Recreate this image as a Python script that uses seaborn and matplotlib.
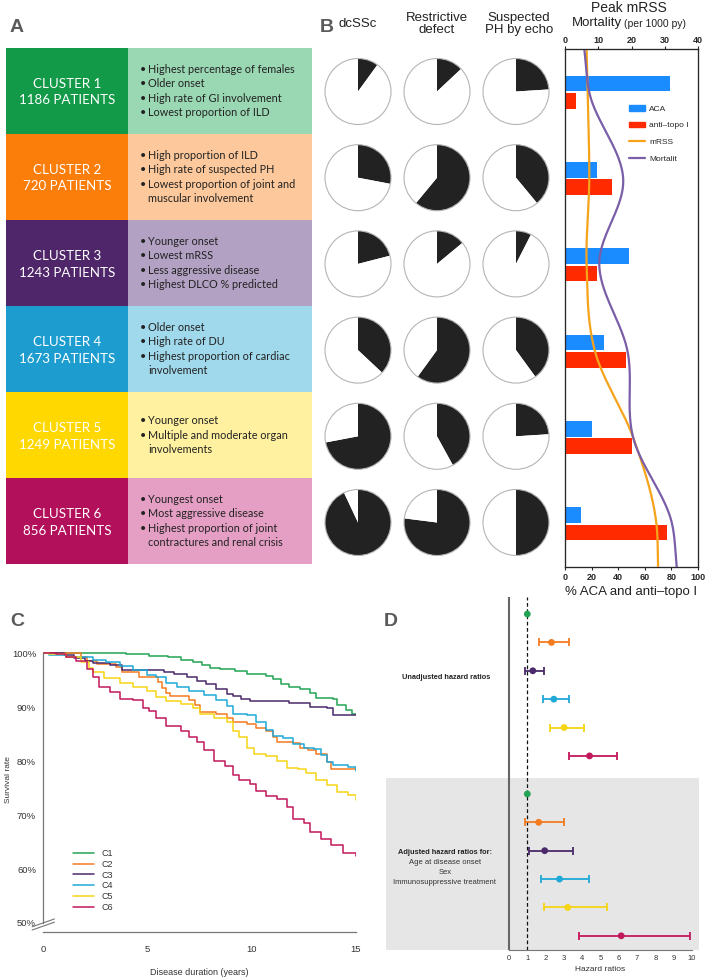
import numpy as np
import pandas as pd
import seaborn as sns
import matplotlib.pyplot as plt
from matplotlib.patches import Rectangle, Circle, Patch
from matplotlib.lines import Line2D

sns.set_style("white")
plt.rcParams["font.family"] = ["Liberation Sans", "DejaVu Sans"]

W, H = 709, 980

# ---------------- data ----------------
clusters = ["C1", "C2", "C3", "C4", "C5", "C6"]
cluster_sizes = [1186, 720, 1243, 1673, 1249, 856]
cluster_notes = [
    ["Highest percentage of females", "Older onset", "High rate of GI involvement", "Lowest proportion of ILD"],
    ["High proportion of ILD", "High rate of suspected PH", "Lowest proportion of joint and\nmuscular involvement"],
    ["Younger onset", "Lowest mRSS", "Less aggressive disease", "Highest DLCO % predicted"],
    ["Older onset", "High rate of DU", "Highest proportion of cardiac\ninvolvement"],
    ["Younger onset", "Multiple and moderate organ\ninvolvements"],
    ["Youngest onset", "Most aggressive disease", "Highest proportion of joint\ncontractures and renal crisis"],
]
dark_colors = ["#139a49", "#fb7d0a", "#4f2669", "#1d9dcf", "#ffd800", "#b3105c"]
light_colors = ["#9ad7b3", "#fdc89b", "#b3a1c4", "#a1d9ec", "#fff1a0", "#e59fc4"]
line_colors = ["#23a455", "#f47b20", "#4a2a6a", "#1fa8d8", "#f5d514", "#c2185b"]

pie_headers = ["dcSSc", "Restrictive\ndefect", "Suspected\nPH by echo"]
dcssc_frac = [0.10, 0.28, 0.21, 0.37, 0.72, 0.93]
restrictive_frac = [0.13, 0.61, 0.14, 0.60, 0.42, 0.77]
ph_echo_frac = [0.24, 0.39, 0.075, 0.40, 0.24, 0.50]

antibodies = ["ACA", "anti–topo I"]
aca_pct = [79, 24, 48, 29, 20, 12]
topo_pct = [8, 35, 24, 46, 50, 77]
# curves read at the top edge, at each cluster row, and at the bottom edge
mrss_curve = [6.5, 6.8, 7.3, 6.5, 9.0, 20.5, 27.5, 28.0]
mortality_curve = [5.8, 7.3, 17.5, 10.3, 18.8, 20.5, 32.2, 33.6]

km_time = {
    "C1": [0, 4.0, 5.1, 6.0, 6.6, 7.2, 7.6, 8.0, 8.5, 9.2, 9.8, 10.7, 11.0, 11.4, 11.8, 12.3, 12.8, 13.1, 13.9, 14.1, 14.5, 14.8, 15],
    "C2": [0, 1.8, 2.1, 2.6, 3.5, 3.8, 4.6, 5.5, 5.7, 5.9, 6.1, 7.0, 7.3, 7.5, 8.3, 8.8, 9.1, 9.8, 10.2, 10.7, 11.0, 11.2, 12.0, 12.3, 12.7, 13.1, 13.6, 13.8, 15],
    "C3": [0, 1.0, 1.5, 2.0, 2.4, 3.2, 3.8, 5.8, 6.3, 6.9, 7.4, 7.8, 8.3, 8.8, 9.1, 9.5, 9.9, 11.8, 12.8, 13.6, 13.9, 15],
    "C4": [0, 0.3, 1.1, 2.4, 3.0, 3.7, 4.3, 5.0, 5.4, 5.9, 6.4, 7.0, 7.7, 8.3, 8.8, 9.1, 9.8, 10.2, 10.7, 11.0, 11.5, 12.0, 12.5, 13.0, 13.3, 13.6, 13.9, 14.6, 15],
    "C5": [0, 0.3, 1.1, 1.8, 2.2, 2.4, 2.9, 3.7, 4.3, 5.0, 5.4, 5.9, 6.6, 7.2, 7.5, 8.2, 8.8, 9.1, 9.4, 9.8, 10.1, 10.7, 11.2, 11.7, 12.2, 12.6, 13.1, 13.6, 14.1, 14.6, 15],
    "C6": [0, 0.6, 1.1, 1.6, 2.1, 2.4, 2.7, 3.2, 3.7, 4.3, 4.8, 5.1, 5.4, 5.9, 6.6, 7.0, 7.4, 7.7, 8.2, 8.7, 9.1, 9.4, 9.9, 10.2, 10.7, 11.2, 11.7, 12.0, 12.5, 12.8, 13.3, 13.8, 14.4, 15],
}
km_surv = {
    "C1": [100, 99.8, 99.5, 99.2, 98.7, 98.3, 97.8, 97.2, 97.0, 96.6, 96.2, 95.8, 95.2, 94.3, 93.8, 93.3, 92.6, 91.7, 91.5, 90.3, 89.5, 88.8, 88.6],
    "C2": [100, 99.2, 98.6, 98.0, 97.4, 96.5, 95.5, 94.6, 93.5, 92.6, 92.0, 91.4, 90.4, 89.0, 88.7, 88.0, 87.3, 86.8, 86.1, 85.5, 84.5, 83.5, 83.4, 82.5, 82.1, 81.3, 79.9, 78.5, 78.4],
    "C3": [100, 99.6, 99.0, 98.5, 98.2, 97.8, 96.8, 96.5, 96.1, 95.5, 94.8, 94.2, 93.3, 92.5, 92.0, 91.5, 91.2, 90.7, 90.1, 89.8, 88.6, 88.6],
    "C4": [100, 99.7, 99.3, 98.8, 98.3, 97.6, 96.8, 96.0, 95.5, 94.5, 93.8, 93.0, 92.2, 91.3, 90.2, 88.8, 88.5, 87.3, 85.8, 84.7, 84.2, 83.2, 82.5, 82.2, 81.2, 79.8, 79.2, 78.9, 78.2],
    "C5": [100, 99.8, 99.2, 98.3, 97.3, 96.5, 95.3, 94.5, 93.8, 93.0, 91.8, 91.2, 90.5, 89.8, 88.8, 88.0, 87.2, 85.5, 84.5, 82.5, 81.3, 81.0, 80.0, 78.7, 78.5, 77.8, 76.5, 75.5, 74.3, 73.8, 72.8],
    "C6": [100, 99.8, 99.3, 98.5, 97.0, 95.5, 93.8, 92.8, 91.5, 91.3, 89.8, 89.2, 88.0, 86.5, 85.5, 84.5, 83.5, 82.0, 80.0, 79.0, 77.5, 76.5, 75.8, 74.5, 73.5, 73.0, 71.5, 69.3, 68.5, 66.8, 65.5, 64.5, 63.0, 62.4],
}

hr_unadj = [1.0, 2.32, 1.30, 2.45, 3.01, 4.40]
hr_unadj_lo = [1.0, 1.62, 0.86, 1.86, 2.24, 3.28]
hr_unadj_hi = [1.0, 3.28, 1.90, 3.27, 4.09, 5.88]
hr_adj = [1.0, 1.62, 1.95, 2.76, 3.21, 6.13]
hr_adj_lo = [1.0, 0.88, 1.08, 1.75, 1.92, 3.80]
hr_adj_hi = [1.0, 3.01, 3.52, 4.38, 5.35, 9.89]


def smooth(vals, pos, n=40):
    """Cubic Hermite curve through the knots (like a smoothed line)."""
    v = np.asarray(vals, float)
    p = np.asarray(pos, float)
    m = np.gradient(v, p)
    t = np.linspace(0, 1, n)
    h00 = 2 * t**3 - 3 * t**2 + 1
    h10 = t**3 - 2 * t**2 + t
    h01 = -2 * t**3 + 3 * t**2
    h11 = t**3 - t**2
    xs, ys = [], []
    for i in range(len(v) - 1):
        h = p[i + 1] - p[i]
        ys.append(h00 * v[i] + h10 * h * m[i] + h01 * v[i + 1] + h11 * h * m[i + 1])
        xs.append(p[i] + t * h)
    return np.concatenate(xs), np.concatenate(ys)


fig = plt.figure(figsize=(W / 100, H / 100), dpi=100)

# ---------------- canvas: table (A) and pies (B) ----------------
cv = fig.add_axes([0, 0, 1, 1])
cv.set_xlim(0, W)
cv.set_ylim(H, 0)

table_font = ["Lato", "DejaVu Sans"]
row_top, row_h, line_h = 48, 86, 14.3
for i in range(6):
    y0 = row_top + i * row_h
    cv.add_patch(Rectangle((6, y0), 122, row_h, color=dark_colors[i], lw=0))
    cv.add_patch(Rectangle((128, y0), 184, row_h, color=light_colors[i], lw=0))
    yc = y0 + row_h / 2
    cv.text(67, yc + 1, f"CLUSTER {i + 1}\n{cluster_sizes[i]} PATIENTS", ha="center", va="center",
            color="white", fontsize=9.6, family=table_font, linespacing=1.5)
    n_lines = sum(len(s.split("\n")) for s in cluster_notes[i])
    y = yc - (n_lines - 1) / 2 * line_h
    for note in cluster_notes[i]:
        cv.text(140, y, "•", ha="left", va="center", fontsize=7.8, family=table_font, color="#222")
        for part in note.split("\n"):
            cv.text(148, y, part, ha="left", va="center", fontsize=7.8, family=table_font, color="#222")
            y += line_h

for j, fracs in enumerate([dcssc_frac, restrictive_frac, ph_echo_frac]):
    cx = 358 + 79 * j
    cv.text(cx + (3 if j == 2 else 0), 24, pie_headers[j], ha="center", va="center",
            fontsize=9.5, linespacing=1.1, color="#222")
    for i, f in enumerate(fracs):
        cy = 91.5 + 86.2 * i
        cv.pie([f, 1 - f], colors=["#222222", "white"], startangle=270, counterclock=True,
               center=(cx, cy), radius=33, frame=True, wedgeprops=dict(linewidth=0))
        cv.add_patch(Circle((cx, cy), 33, fill=False, ec="#b5b5b5", lw=0.8))

cv.set_xlim(0, W)
cv.set_ylim(H, 0)
cv.set_aspect("auto")
cv.axis("off")

# title of the bar panel
cv.text(629, 8, "Peak mRSS", ha="center", va="center", fontsize=10, color="#222")
cv.text(622, 23, "Mortality", ha="right", va="center", fontsize=9.5, color="#222")
cv.text(624, 24, "(per 1000 py)", ha="left", va="center", fontsize=7.5, color="#222")

# ---------------- B: bars + curves ----------------
axb = fig.add_axes([565 / W, 1 - 567 / H, 133 / W, 518 / H])
df_ab = pd.DataFrame({
    "cluster": clusters * 2,
    "antibody": [antibodies[0]] * 6 + [antibodies[1]] * 6,
    "pct": aca_pct + topo_pct,
})
bar_colors = ["#1a8cff", "#ff2a00"]
sns.barplot(data=df_ab, x="pct", y="cluster", hue="antibody", hue_order=antibodies, order=clusters,
            orient="h", palette=bar_colors, width=0.4, gap=0.1, saturation=1, linewidth=0,
            legend=False, ax=axb)
axb.set_xlim(0, 100)
axb.set_ylim(5.5, -0.5)
axb.set_xticks(range(0, 101, 20))
axb.set_yticks([])
axb.set_ylabel("")
axb.set_xlabel("% ACA and anti–topo I", fontsize=9.5, labelpad=3, color="#222")
axb.tick_params(axis="x", labelsize=6.5, length=2, pad=2)
for t in axb.get_xticklabels():
    t.set_fontweight("bold")
for s in axb.spines.values():
    s.set_color("#444")
    s.set_linewidth(0.9)

axt = axb.twiny()
axt.set_xlim(0, 40)
knot_pos = np.r_[-0.5, np.arange(len(clusters)), len(clusters) - 0.5]
curve_colors = ["#f5a31a", "#7a5ea8"]
for vals, col in zip([mrss_curve, mortality_curve], curve_colors):
    yy, xx = smooth(vals, knot_pos)
    axt.plot(xx, yy, color=col, lw=1.6)
axt.set_ylim(5.5, -0.5)
axt.set_xticks(range(0, 41, 10))
axt.tick_params(axis="x", labelsize=6.5, length=2, pad=1)
for t in axt.get_xticklabels():
    t.set_fontweight("bold")

handles = [Patch(color=bar_colors[0]), Patch(color=bar_colors[1]),
           Line2D([], [], color=curve_colors[0], lw=1.6), Line2D([], [], color=curve_colors[1], lw=1.6)]
axt.legend(handles, ["ACA", "anti–topo I", "mRSS", "Mortalit"], loc="upper left",
           bbox_to_anchor=(0.45, 0.9), frameon=False, fontsize=6, handlelength=1.9,
           handleheight=0.7, handletextpad=0.5, labelspacing=1.05, borderpad=0)

# ---------------- C: Kaplan-Meier ----------------
axc = fig.add_axes([43 / W, 1 - 932 / H, 313 / W, 287 / H])
df_km = pd.concat([pd.DataFrame({"time": km_time[c], "surv": km_surv[c], "cluster": c}) for c in clusters])
sns.lineplot(data=df_km, x="time", y="surv", hue="cluster", hue_order=clusters, palette=line_colors,
             estimator=None, drawstyle="steps-post", linewidth=1.1, legend=False, ax=axc)
axc.set_xlim(0, 15)
axc.set_ylim(48.33, 101.5)
axc.set_yticks(range(50, 101, 10))
axc.set_yticklabels([f"{v}%" for v in range(50, 101, 10)])
axc.set_xticks([0, 5, 10, 15])
sns.despine(ax=axc)
axc.spines["left"].set_bounds(50, 100)
axc.spines["bottom"].set_bounds(0, 15)
for s in ["left", "bottom"]:
    axc.spines[s].set_color("#777")
    axc.spines[s].set_linewidth(0.9)
axc.tick_params(labelsize=6.8, length=3, width=0.8, color="#777", labelcolor="#333", pad=2)
axc.tick_params(axis="x", pad=6)
axc.set_xlabel("Disease duration (years)", fontsize=6.5, color="#333")
axc.set_ylabel("Survival rate", fontsize=6, color="#333")
axc.xaxis.set_label_coords(0.5, -0.125)
axc.yaxis.set_label_coords(-0.098, 0.53)
km_handles = [Line2D([], [], color=c, lw=1.1) for c in line_colors]
axc.legend(km_handles, clusters, loc="upper left", bbox_to_anchor=(0.08, 0.305), frameon=False,
           fontsize=6.5, handlelength=2.4, handletextpad=0.8, labelspacing=0.2, borderpad=0,
           labelcolor="#333")
for dy in (0, -0.6):
    axc.plot([-0.52, 0.55], [49.3 + dy, 50.75 + dy], color="#777", lw=0.8, clip_on=False)

# ---------------- D: hazard ratios ----------------
axd = fig.add_axes([386 / W, 1 - 950 / H, 313 / W, 353 / H])
axd.patch.set_alpha(0)
row_unadj = np.arange(6)
row_adj = np.arange(6) + 6.34
axd.set_xlim(-6.72, 10.38)
axd.set_ylim(11.84, -0.6)
axd.axhspan(5.77, 11.84, color="#e6e6e6", lw=0, zorder=0)
axd.axvline(0, color="#666", lw=1.5, zorder=1)
axd.axvline(1, color="#111", lw=0.9, ls=(0, (3, 2)), zorder=1)

df_hr = pd.DataFrame({
    "cluster": clusters * 2,
    "hr": hr_unadj + hr_adj,
    "lo": hr_unadj_lo + hr_adj_lo,
    "hi": hr_unadj_hi + hr_adj_hi,
    "row": np.r_[row_unadj, row_adj],
})
for _, r in df_hr.iterrows():
    if r["hi"] > r["lo"]:
        col = line_colors[clusters.index(r["cluster"])]
        axd.errorbar(r["hr"], r["row"], xerr=[[r["hr"] - r["lo"]], [r["hi"] - r["hr"]]], fmt="none",
                     ecolor=col, elinewidth=1.3, capsize=3.2, capthick=1.3, zorder=2)
sns.scatterplot(data=df_hr, x="hr", y="row", hue="cluster", hue_order=clusters, palette=line_colors,
                s=24, linewidth=0, legend=False, zorder=3, ax=axd)
axd.set_ylim(11.84, -0.6)
axd.set_yticks([])
axd.set_ylabel("")
axd.set_xticks(range(0, 11))
for s in ["left", "top", "right"]:
    axd.spines[s].set_visible(False)
axd.spines["bottom"].set_bounds(0, 10)
axd.spines["bottom"].set_color("#777")
axd.tick_params(axis="x", labelsize=5.5, length=2, width=0.7, color="#777", labelcolor="#333", pad=1.5)
axd.set_xlabel("Hazard ratios", fontsize=6, color="#333")
axd.xaxis.set_label_coords(0.684, -0.045)

axd.text(-3.44, 2.25, "Unadjusted hazard ratios", ha="center", va="center", fontsize=5.3,
         fontweight="bold", color="#222")
axd.text(-3.5, 8.42, "Adjusted hazard ratios for:", ha="center", va="center", fontsize=5.3,
         fontweight="bold", color="#222")
for k, txt in enumerate(["Age at disease onset", "Sex", "Immunosuppressive treatment"]):
    axd.text(-3.5, 8.77 + 0.34 * k, txt, ha="center", va="center", fontsize=5.5, color="#333")

# panel letters on top of everything
for lab, (x, y) in zip("ABCD", [(17, 27), (327, 28), (17, 622), (391, 622)]):
    fig.text(x / W, 1 - y / H, lab, ha="center", va="center", fontsize=14, fontweight="bold",
             color="#5a5a5a")

fig.savefig("out.png", dpi=100)
